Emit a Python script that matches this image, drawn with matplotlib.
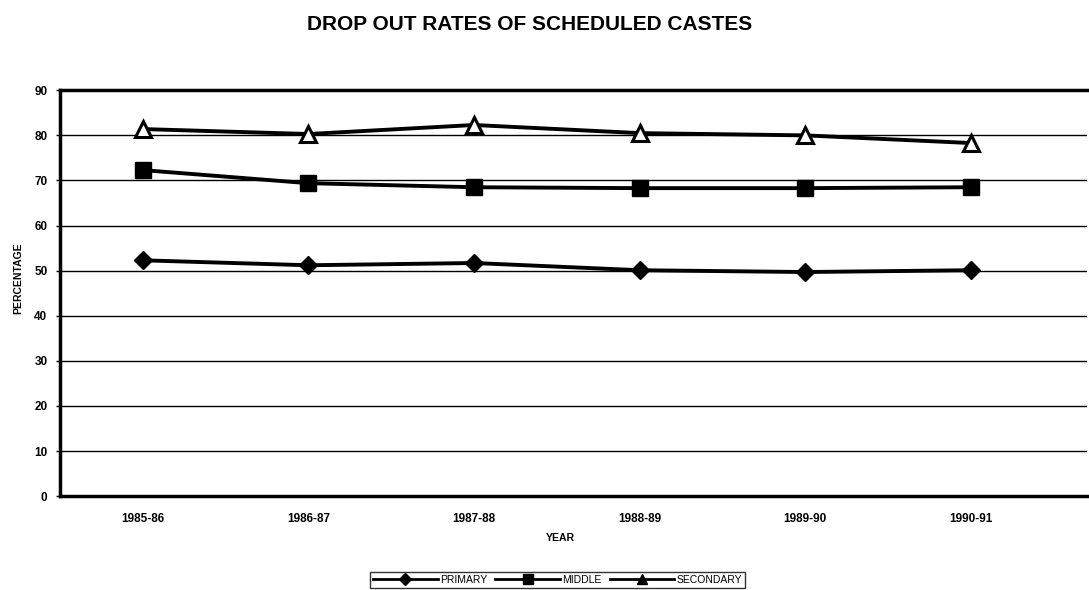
import matplotlib
matplotlib.use("Agg")
import matplotlib.pyplot as plt
from matplotlib.lines import Line2D

plt.rcParams['font.family'] = ['Liberation Sans', 'DejaVu Sans']

years = ["1985-86", "1986-87", "1987-88", "1988-89", "1989-90", "1990-91"]
primary = [52.3, 51.2, 51.7, 50.1, 49.7, 50.1]
middle = [72.3, 69.4, 68.5, 68.3, 68.3, 68.5]
secondary = [81.4, 80.3, 82.3, 80.5, 80.0, 78.3]
yticks = [0, 10, 20, 30, 40, 50, 60, 70, 80, 90]

fig = plt.figure(figsize=(10.89, 5.9), dpi=100)
ax = fig.add_axes([0.055, 0.159, 0.943, 0.688])

x = list(range(len(years)))
ax.plot(x, primary, color='black', lw=2.8, marker='D', ms=9, mfc='black', mec='black', zorder=3)
ax.plot(x, middle, color='black', lw=2.8, marker='s', ms=12, mfc='black', mec='black', zorder=3)
ax.plot(x, secondary, color='black', lw=2.8, marker='^', ms=12, mfc='white', mec='black', mew=2.2, zorder=3)

ax.set_xlim(-0.5, 5.7)
ax.set_ylim(0, 90)
ax.set_yticks(yticks)
ax.set_yticklabels([str(v) for v in yticks], fontsize=8.5, fontweight='bold')
ax.set_xticks(x)
ax.set_xticklabels(years, fontsize=8.5, fontweight='bold')
ax.tick_params(axis='x', length=0, pad=12)
ax.tick_params(axis='y', length=3, width=1, pad=6)
ax.yaxis.grid(True, color='black', lw=1.0)
ax.set_axisbelow(True)
for s in ['left', 'bottom', 'top']:
    ax.spines[s].set_linewidth(2.5)
ax.spines['right'].set_visible(False)

ax.set_xlabel("YEAR", fontsize=7.5, fontweight='bold', labelpad=6)
ax.xaxis.set_label_coords(0.487, -0.09)
ax.set_ylabel("PERCENTAGE", fontsize=7.5, fontweight='bold', labelpad=10)
ax.yaxis.set_label_coords(-0.036, 0.537)

fig.text(0.486, 0.959, "DROP OUT RATES OF SCHEDULED CASTES", ha='center', va='center',
         fontsize=15, fontweight='bold')

handles = [
    Line2D([], [], color='black', lw=2, marker='D', ms=6, mfc='black'),
    Line2D([], [], color='black', lw=2, marker='s', ms=7, mfc='black'),
    Line2D([], [], color='black', lw=2, marker='^', ms=7, mfc='black'),
]
leg = fig.legend(handles, ["PRIMARY", "MIDDLE", "SECONDARY"], loc='center',
                 bbox_to_anchor=(0.512, 0.017), ncol=3, fontsize=7.5, frameon=True,
                 fancybox=False, edgecolor='black', handlelength=6.2, columnspacing=0.8,
                 handletextpad=0.2, borderpad=0.3)
leg.get_frame().set_linewidth(1.0)

fig.savefig("out.png", dpi=100)
